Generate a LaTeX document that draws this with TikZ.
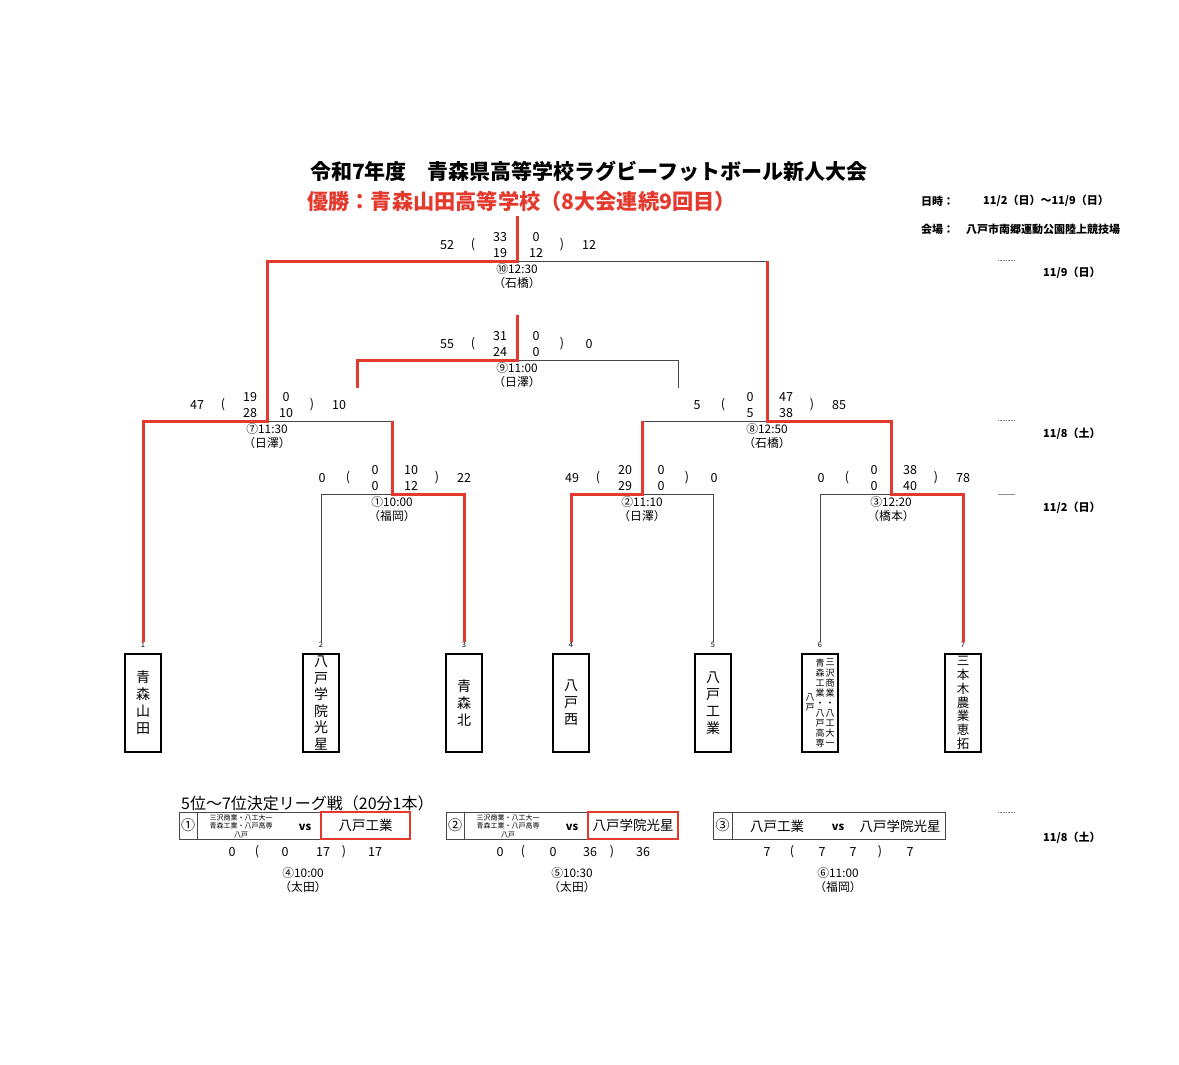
\documentclass[tikz,border=0pt]{standalone}
\usepackage{fontspec}
\newfontfamily\jp{Noto Sans CJK JP}
\usetikzlibrary{calc}
\definecolor{winred}{RGB}{228,57,45}
\definecolor{lose}{RGB}{70,70,70}
\tikzset{
  win/.style={draw=winred,line width=3pt},
  losel/.style={draw=lose,line width=0.9pt},
  sc/.style={font={\jp\fontsize{12.5}{13}\selectfont},inner sep=0pt,anchor=center},
  lbl/.style={font={\jp\fontsize{11.8}{12}\selectfont},inner sep=0pt},
  numlbl/.style={font={\jp\fontsize{7.5}{8}\selectfont},inner sep=0pt},
  teambox/.style={draw=black,line width=1.8pt,minimum width=36pt,minimum height=98pt,inner sep=0pt,align=center},
  hdr/.style={font={\jp\bfseries\fontsize{11}{12}\selectfont},inner sep=0pt,anchor=west},
  lgcell/.style={draw=lose,line width=0.9pt,minimum height=27pt,inner sep=0pt},
  redbox/.style={draw=winred,line width=2.5pt,minimum height=27pt,inner sep=0pt,font={\jp\fontsize{13.5}{14}\selectfont}},
  smalltxt/.style={font={\jp\fontsize{7}{8.5}\selectfont},inner sep=0pt,align=center},
  vsstyle/.style={font={\jp\bfseries\fontsize{11}{12}\selectfont},inner sep=0pt},
  lgname/.style={font={\jp\fontsize{13.5}{14}\selectfont},inner sep=0pt},
  tick/.style={draw=lose!70,line width=0.6pt,densely dotted},
}
\newcommand{\mscore}[9]{%
  \node[sc] (#1lt) at ($(#1)+(-70,-16)$) {#2};
  \node[sc] (#1lp) at ($(#1)+(-44,-16)$) {(};
  \node[sc] (#1a1) at ($(#1)+(-17,-24)$) {#3};
  \node[sc] (#1a2) at ($(#1)+(-17,-8)$) {#4};
  \node[sc] (#1b1) at ($(#1)+(19,-24)$) {#5};
  \node[sc] (#1b2) at ($(#1)+(19,-8)$) {#6};
  \node[sc] (#1rp) at ($(#1)+(45,-16)$) {)};
  \node[sc] (#1rt) at ($(#1)+(72,-16)$) {#7};
  \node[lbl] (#1la) at ($(#1)+(0,8)$) {#8};
  \node[lbl] (#1lb) at ($(#1)+(0,22)$) {#9};
}
\begin{document}
\begin{tikzpicture}[x=1pt,y=-1pt,line join=miter]
\useasboundingbox[fill=white] (0,0) rectangle (1179,1065);

% titles
\node[anchor=west,inner sep=0pt,font={\jp\bfseries\fontsize{21}{24}\selectfont}] (title) at (310,171) {令和7年度　青森県高等学校ラグビーフットボール新人大会};
\node[anchor=west,inner sep=0pt,text=winred,font={\jp\bfseries\fontsize{21.2}{24}\selectfont}] (champ) at (307,201) {優勝：青森山田高等学校（8大会連続9回目）};

% header info
\node[hdr] (dtl) at (921,201) {日時：};
\node[hdr] (dtv) at (983,201) {11/2（日）～11/9（日）};
\node[hdr] (vnl) at (921,229) {会場：};
\node[hdr] (vnv) at (966,229) {八戸市南郷運動公園陸上競技場};
\node[hdr] (d1) at (1043,273) {11/9（日）};
\node[hdr] (d2) at (1043,434) {11/8（土）};
\node[hdr] (d3) at (1043,508) {11/2（日）};
\node[hdr] (d4) at (1043,838) {11/8（土）};
\draw[tick] (998,260) -- (1015,260);
\draw[tick] (998,420) -- (1015,420);
\draw[draw=lose!60,line width=0.6pt] (998,494) -- (1015,494);
\draw[tick] (998,812) -- (1015,812);

% team boxes
\node[teambox,font={\jp\fontsize{14}{17}\selectfont}] (t1) at (143,703) {青\\森\\山\\田};
\node[teambox,font={\jp\fontsize{14}{16.6}\selectfont}] (t2) at (321,703) {八\\戸\\学\\院\\光\\星};
\node[teambox,font={\jp\fontsize{14}{17}\selectfont}] (t3) at (464,703) {青\\森\\北};
\node[teambox,font={\jp\fontsize{14}{17}\selectfont}] (t4) at (571,703) {八\\戸\\西};
\node[teambox,font={\jp\fontsize{14}{17}\selectfont}] (t5) at (713,703) {八\\戸\\工\\業};
\node[teambox] (t6) at (820,703) {};
\node[smalltxt,font={\jp\fontsize{9}{10.1}\selectfont}] (t6a) at (830,703) {三\\沢\\商\\業\\・\\八\\工\\大\\一};
\node[smalltxt,font={\jp\fontsize{9}{10.1}\selectfont}] (t6b) at (820,703) {青\\森\\工\\業\\・\\八\\戸\\高\\専};
\node[smalltxt,font={\jp\fontsize{9}{10.1}\selectfont}] (t6c) at (810,702) {八\\戸};
\node[teambox,font={\jp\fontsize{12.5}{13.8}\selectfont}] (t7) at (963,703) {三\\本\\木\\農\\業\\恵\\拓};

\node[numlbl] (n1) at (143,645) {1};
\node[numlbl] (n2) at (321,645) {2};
\node[numlbl] (n3) at (464,645) {3};
\node[numlbl] (n4) at (571,645) {4};
\node[numlbl] (n5) at (713,645) {5};
\node[numlbl] (n6) at (820,645) {6};
\node[numlbl] (n7) at (963,645) {7};

% match points
\coordinate (m1) at (392,494);
\coordinate (m2) at (642,494);
\coordinate (m3) at (891,494);
\coordinate (m7) at (267,421);
\coordinate (m8) at (767,421);
\coordinate (m9) at (517,360);
\coordinate (m10) at (517,261);
\coordinate (top10) at (517,216);
\coordinate (top9) at (517,315);
\coordinate (l9) at (357,388);
\coordinate (r9) at (678,388);

% losing lines
\draw[losel] (n2.north) |- (m1);
\draw[losel] (m1 |- m7) -- (m7);
\draw[losel] (n5.north) |- (m2);
\draw[losel] (m2 |- m8) -- (m8);
\draw[losel] (n6.north) |- (m3);
\draw[losel] (m8 |- m10) -- (m10);
\draw[losel] (m9) -| (r9);

% winning lines
\draw[win] (n1.north) |- (m7) |- (m10) -- (top10);
\draw[win] (n3.north) |- (m1) -- (m1 |- m7);
\draw[win] (n4.north) |- (m2) -- (m2 |- m8);
\draw[win] (n7.north) |- (m3) |- (m8) -- (m8 |- m10);
\draw[win] (l9) |- (m9) -- (top9);

% scores
\mscore{m10}{52}{33}{19}{0}{12}{12}{⑩12:30}{（石橋）}
\mscore{m9}{55}{31}{24}{0}{0}{0}{⑨11:00}{（日澤）}
\mscore{m7}{47}{19}{28}{0}{10}{10}{⑦11:30}{（日澤）}
\mscore{m8}{5}{0}{5}{47}{38}{85}{⑧12:50}{（石橋）}
\mscore{m1}{0}{0}{0}{10}{12}{22}{①10:00}{（福岡）}
\mscore{m2}{49}{20}{29}{0}{0}{0}{②11:10}{（日澤）}
\mscore{m3}{0}{0}{0}{38}{40}{78}{③12:20}{（橋本）}

% league
\node[anchor=west,inner sep=0pt,font={\jp\fontsize{16}{18}\selectfont}] (lgtitle) at (181,803) {5位～7位決定リーグ戦（20分1本）};

\node[lgcell,minimum width=18pt,font={\jp\fontsize{14}{15}\selectfont}] (ca) at (188,825.5) {①};
\node[lgcell,minimum width=213pt] (ma) at (303.5,825.5) {};
\node[smalltxt] (sa) at (241,826) {三沢商業・八工大一\\青森工業・八戸高専\\八戸};
\node[vsstyle] (va) at (305,827) {vs};
\node[redbox,minimum width=89pt] (ra) at (365.5,825.5) {八戸工業};

\node[lgcell,minimum width=18pt,font={\jp\fontsize{14}{15}\selectfont}] (cb) at (455,825.5) {②};
\node[lgcell,minimum width=214pt] (mb) at (571,825.5) {};
\node[smalltxt] (sb) at (508,826) {三沢商業・八工大一\\青森工業・八戸高専\\八戸};
\node[vsstyle] (vb) at (572,827) {vs};
\node[redbox,minimum width=90pt] (rb) at (633,825.5) {八戸学院光星};

\node[lgcell,minimum width=19pt,font={\jp\fontsize{14}{15}\selectfont}] (cc) at (722.5,825.5) {③};
\node[lgcell,minimum width=213pt] (mc) at (838.5,825.5) {};
\node[lgname] (lc1) at (777,826) {八戸工業};
\node[vsstyle] (vc) at (838,827) {vs};
\node[lgname] (lc2) at (900,826) {八戸学院光星};

% league scores
\node[sc] (sa1) at (232,852) {0};
\node[sc] (sa2) at (257,852) {(};
\node[sc] (sa3) at (285,852) {0};
\node[sc] (sa4) at (323,852) {17};
\node[sc] (sa5) at (344,852) {)};
\node[sc] (sa6) at (375,852) {17};
\node[lbl] (la1) at (303,873) {④10:00};
\node[lbl] (la2) at (303,887) {（太田）};

\node[sc] (sb1) at (500,852) {0};
\node[sc] (sb2) at (523,852) {(};
\node[sc] (sb3) at (553,852) {0};
\node[sc] (sb4) at (590,852) {36};
\node[sc] (sb5) at (612,852) {)};
\node[sc] (sb6) at (643,852) {36};
\node[lbl] (lb1) at (572,873) {⑤10:30};
\node[lbl] (lb2) at (572,887) {（太田）};

\node[sc] (sc1) at (767,852) {7};
\node[sc] (sc2) at (792,852) {(};
\node[sc] (sc3) at (822,852) {7};
\node[sc] (sc4) at (853,852) {7};
\node[sc] (sc5) at (880,852) {)};
\node[sc] (sc6) at (910,852) {7};
\node[lbl] (lc3) at (838,873) {⑥11:00};
\node[lbl] (lc4) at (838,887) {（福岡）};
\end{tikzpicture}
\end{document}
